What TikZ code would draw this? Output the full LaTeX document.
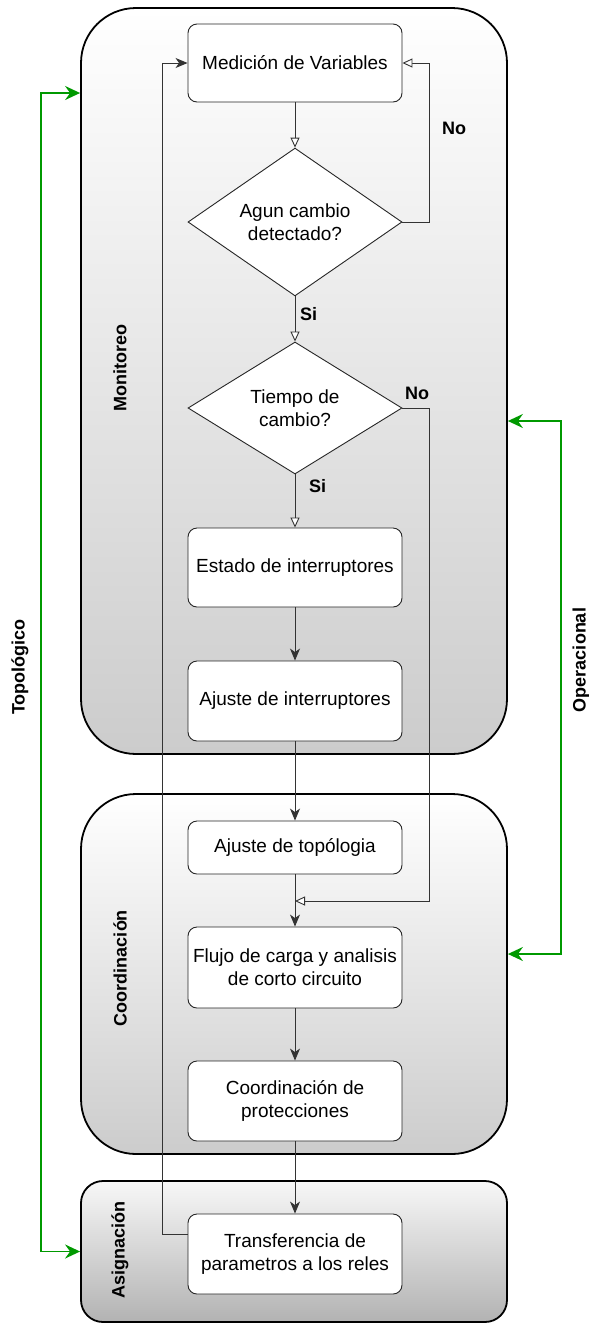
\documentclass[tikz,border=0pt]{standalone}
\usepackage{fontspec}
\setmainfont{Liberation Sans}
\usetikzlibrary{arrows.meta,shapes.geometric,calc}
\tikzset{
  box/.style={draw=black!85, line width=0.9pt, fill=white, rounded corners=9pt,
    minimum width=214pt, align=center, inner sep=2pt,
    font=\fontsize{19}{23}\selectfont},
  dec/.style={draw=black!85, line width=0.9pt, fill=white, shape=diamond,
    minimum width=214pt, minimum height=132pt, inner sep=0pt, align=center,
    font=\fontsize{19}{23}\selectfont},
  cont/.style={draw=black, line width=1.8pt, top color=white, bottom color=black!20,
    minimum width=426pt, rounded corners=55pt},
  lane/.style={font=\bfseries\fontsize{18}{21}\selectfont, rotate=90},
  lbl/.style={font=\bfseries\fontsize{18}{21}\selectfont, inner sep=0pt},
  conn/.style={draw=black!80, line width=0.9pt},
  fa/.style={conn, -{Stealth[length=12pt,width=10pt,inset=3.5pt]}},
  oa/.style={conn, -{Triangle[length=10pt,width=9pt,fill=white]}},
  garrow/.style={draw=green!60!black, line width=1.8pt,
    {Stealth[length=15pt,width=14pt,inset=5pt]}-{Stealth[length=15pt,width=14pt,inset=5pt]}},
}
\begin{document}
\begin{tikzpicture}[x=1pt,y=-1pt]
\useasboundingbox (0,0) rectangle (589,1326);

% containers
\node[cont, minimum height=746pt] (mon) at (294,381) {};
\node[cont, minimum height=360pt] (coo) at (294,974) {};
\node[cont, minimum height=141pt, rounded corners=22pt, top color=black!3, bottom color=black!30] (asi) at (294,1251.5) {};

\node[lane] (lmon) at (120,368) {Monitoreo};
\node[lane] (lcoo) at (120,968) {Coordinación};
\node[lane] (lasi) at (120,1250) {Asignación};

% process nodes
\node[box, minimum height=78pt] (med) at (295,63) {Medición de Variables};
\node[dec] (d1) at (295,222) {Agun cambio\\detectado?};
\node[dec] (d2) at (295,408) {Tiempo de\\cambio?};
\node[box, minimum height=79pt] (est) at (295,567.5) {Estado de interruptores};
\node[box, minimum height=80pt] (aint) at (295,701) {Ajuste de interruptores};
\node[box, minimum height=53pt] (atop) at (295,847.5) {Ajuste de topólogia};
\node[box, minimum height=81pt] (flujo) at (295,967.5) {Flujo de carga y analisis\\de corto circuito};
\node[box, minimum height=80pt] (coord) at (295,1101) {Coordinación de\\protecciones};
\node[box, minimum height=80pt] (transf) at (295,1254) {Transferencia de\\parametros a los reles};

% connectors
\coordinate (join) at (295,901);
\coordinate (lp) at (162,1234);
\draw[oa] (med) -- (d1);
\draw[oa] (d1.east) -- ++(27,0) |- (med.east);
\draw[oa] (d1) -- (d2);
\draw[oa] (d2) -- (est);
\draw[fa] (est) -- (aint);
\draw[fa] (aint) -- (atop);
\draw[fa] (atop) -- (flujo);
\draw[oa] (d2.east) -- ++(27,0) |- (join);
\draw[fa] (flujo) -- (coord);
\draw[fa] (coord) -- (transf);
\draw[fa] (transf.west |- lp) -- (lp) |- (med.west);

\node[lbl, anchor=west] (no1) at (442,128) {No};
\node[lbl, anchor=west] (si1) at (300,314) {Si};
\node[lbl, anchor=west] (no2) at (405,393) {No};
\node[lbl, anchor=west] (si2) at (309,486) {Si};

% green feedback arrows
\coordinate (tl) at (41,93);
\coordinate (tr) at (561,421);
\coordinate (br) at (561,954);
\draw[garrow] (mon.west |- tl) -- (tl) |- (asi.west);
\draw[garrow] (mon.east |- tr) -- (tr) |- (coo.east |- br);

\node[lane] (ltop) at (20,667) {Topológico};
\node[lane] (lope) at (581,660) {Operacional};
\end{tikzpicture}
\end{document}
